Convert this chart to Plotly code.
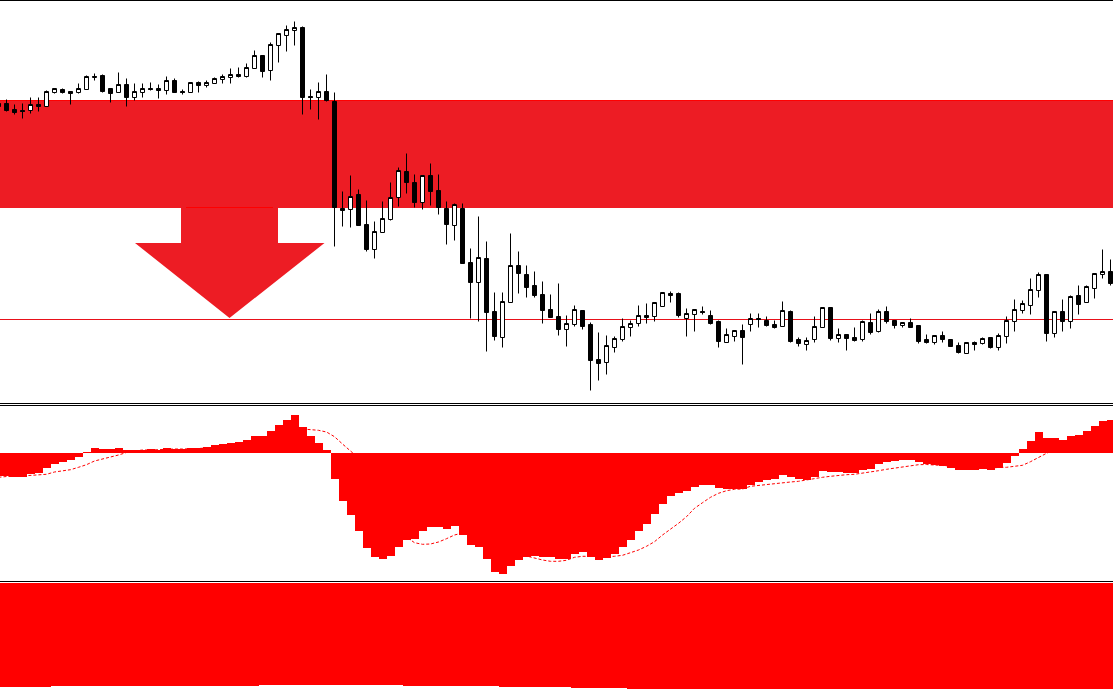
import plotly.graph_objects as go

W, H = 1113, 689

bar_index = list(range(-1, 139))

opens = [297,297,291,290,290,296,294,308,311,309,308,311,323,325,312,308,316,303,308,312,312,310,320,309,308,318,315,317,321,323,326,324,332,345,330,355,365,370,373,304,303,309,299,192,191,206,176,151,168,181,203,229,218,198,225,210,192,175,192,138,118,142,89,63,98,135,126,115,106,91,84,71,76,90,76,41,38,53,61,73,77,85,84,94,107,107,82,86,89,85,79,58,64,70,76,82,80,76,74,89,61,56,61,73,93,62,66,63,61,78,69,89,80,75,78,75,61,58,65,61,55,47,58,57,63,53,64,79,90,95,110,126,67,89,79,105,98,112,126,129]
highs = [300,301,296,297,303,303,310,312,312,309,317,325,327,326,312,328,322,317,317,318,316,324,322,311,318,319,320,323,326,332,333,337,350,345,358,367,375,379,374,311,318,326,308,209,225,211,200,179,199,218,233,247,226,225,237,226,199,197,197,152,184,159,108,108,167,149,135,129,119,106,117,85,95,90,78,68,65,64,82,80,95,97,98,108,109,108,92,91,94,90,80,72,70,76,87,87,84,80,99,90,63,63,84,93,93,72,66,73,80,87,91,94,80,78,82,75,66,65,69,61,58,58,59,63,63,67,84,101,100,122,128,126,89,101,105,115,115,127,151,141]
lows = [292,289,286,282,287,289,294,307,307,296,307,311,320,308,298,308,294,300,303,310,302,306,308,306,308,308,313,317,317,317,323,323,332,323,320,338,349,355,286,291,281,299,154,174,173,175,149,142,168,180,194,207,193,191,195,186,156,160,137,82,79,49,60,53,98,107,103,103,77,83,65,54,74,71,10,20,26,48,59,64,74,77,79,94,98,83,64,69,86,76,53,58,59,36,69,73,74,72,74,58,54,50,58,73,60,58,50,59,59,66,68,77,72,73,73,57,57,56,58,54,47,47,50,56,52,50,57,69,87,86,103,59,63,69,72,86,98,102,122,115]
closes = [294,290,288,289,296,294,309,312,308,307,312,324,324,309,307,316,303,309,312,311,310,320,308,308,318,315,318,322,324,326,324,333,345,329,356,367,371,373,303,303,309,300,193,190,204,175,151,169,182,203,230,218,198,225,209,193,176,196,137,118,143,88,64,99,135,127,113,105,90,83,71,77,91,74,40,37,55,62,74,77,85,83,98,108,105,85,87,91,88,77,59,66,70,63,82,81,75,73,90,59,57,60,74,93,62,66,62,60,79,68,89,79,75,78,73,59,58,65,61,54,48,58,56,62,53,65,80,91,97,111,126,67,89,79,104,96,114,127,129,117]

hist_values = [-23,-23,-23.5,-23.5,-21,-20,-15,-11,-9,-7,-4,1,5,4,4,5,3,3,3,4,3.5,5,4,4,5,5,6,8,9,10,11,13,17,17,22,28,33,38,26,17,10,3,-26,-48,-62,-78,-95,-104,-106,-103,-94,-87,-86,-78,-74,-74,-76,-73,-82,-92,-94,-106,-119,-121,-113,-107,-104,-103,-104,-104,-106,-106,-101,-99,-104,-107,-105,-101,-94,-87,-78,-71,-61,-51,-43,-40,-38,-34,-32,-32,-35,-36,-36,-36,-32,-29,-27,-26,-22,-24,-26,-27,-24,-18,-19,-19,-20,-20,-17,-16,-11,-9,-8,-7,-7,-9,-11,-12,-13,-15,-17,-17,-17,-16,-17,-15,-10,-3,4,12,21,15,15,13,17,18,22,27,32,33]
signal_values = [-24.3,-23.5,-23.5,-23,-22.3,-22.3,-21.3,-19,-18,-16.7,-14.3,-11.7,-8,-5.7,-4,-2,0.5,2,3,3,3.5,4,4,4,4,4.5,5,5.5,6,7,8,9,11,13,15.5,18,21,23.5,24,23.7,22.7,21,16.3,9,2.3,-5,-17,-32,-47,-62,-75,-84,-89.7,-91.3,-91,-89,-85.7,-82,-80,-80,-81,-84,-89,-94,-98,-102,-103,-105.3,-107,-108.3,-108.3,-107.3,-104.3,-103.3,-103.5,-103.5,-103.5,-103.3,-102.3,-99.7,-97,-93.3,-88.7,-82,-76.3,-70.3,-63.7,-55.3,-49.7,-44.3,-40.3,-37.7,-36.3,-36,-33.3,-32.3,-32,-31,-29.7,-29,-28.3,-27,-25,-24.3,-23.3,-22.3,-21.7,-21.3,-20.3,-19,-17.7,-16.3,-15.3,-14,-12.7,-11.7,-11.5,-12,-12.5,-13,-14,-14.5,-15,-15.3,-15.5,-14.3,-14.3,-13.3,-12.3,-8.7,-4.3,-0.3,3,6,9,12,15,18,22,25]
lower_values = [-104,-104,-104,-104,-104,-104,-104,-103,-103,-103,-103,-103,-103,-103,-103,-103,-103,-103,-103,-103,-103,-103,-103,-103,-103,-103,-103,-103,-103,-103,-103,-103,-103,-102,-102,-102,-102,-102,-102,-102,-102,-102,-102,-102,-102,-102,-102,-102,-102,-102,-102,-103,-103,-103,-103,-103,-103,-103,-103,-103,-103,-103,-103,-104,-104,-104,-104,-104,-104,-104,-104,-104,-105,-105,-105,-105,-105,-105,-105,-106,-106,-106,-106,-106,-106,-106,-106,-106,-106,-106,-106,-106,-106,-106,-106,-106,-106,-106,-106,-106,-106,-106,-106,-106,-106,-106,-106,-106,-106,-106,-106,-106,-106,-106,-106,-106,-106,-106,-106,-106,-106,-106,-106,-106,-106,-106,-106,-106,-106,-106,-106,-106,-106,-106,-106,-106,-106,-106,-106,-106]

zone_top, zone_bottom = 300.5, 192.5
level = 81

ZONE = "#ED1C24"
RED = "#FF0000"


def fx(px):
    return px / W


def fy(py):
    return 1 - py / H


x_range = [(0 - 6.5) / 8, (W - 6.5) / 8]

fig = go.Figure()
fig.add_trace(go.Candlestick(
    x=bar_index, open=opens, high=highs, low=lows, close=closes,
    xaxis="x", yaxis="y",
    increasing=dict(line=dict(color="#000000", width=1), fillcolor="#FFFFFF"),
    decreasing=dict(line=dict(color="#000000", width=1), fillcolor="#000000"),
    whiskerwidth=0, showlegend=False, hoverinfo="skip",
))
fig.add_trace(go.Scatter(
    x=bar_index, y=signal_values, mode="lines", xaxis="x2", yaxis="y2",
    line=dict(color=RED, width=1, dash="3px,2px"), showlegend=False, hoverinfo="skip",
))
fig.add_trace(go.Bar(
    x=bar_index, y=hist_values, width=1, xaxis="x2", yaxis="y2",
    marker=dict(color=RED, line=dict(width=0)), showlegend=False, hoverinfo="skip",
))
fig.add_trace(go.Bar(
    x=bar_index, y=lower_values, width=1, xaxis="x3", yaxis="y3",
    marker=dict(color=RED, line=dict(width=0)), showlegend=False, hoverinfo="skip",
))

arrow_path = "M {} {} L {} {} L {} {} L {} {} L {} {} L {} {} L {} {} Z".format(
    fx(181), fy(207), fx(278), fy(207), fx(278), fy(243), fx(324.5), fy(243),
    fx(229.5), fy(318), fx(135), fy(243), fx(181), fy(243))

shapes = [
    dict(type="rect", xref="paper", yref="y", x0=0, x1=1, y0=zone_bottom, y1=zone_top,
         fillcolor=ZONE, line=dict(width=0), layer="below"),
    dict(type="line", xref="paper", yref="y", x0=0, x1=1, y0=zone_top - 0.5, y1=zone_top - 0.5,
         line=dict(color=RED, width=1), layer="below"),
    dict(type="line", xref="paper", yref="y", x0=0, x1=1, y0=level, y1=level,
         line=dict(color="#E8111A", width=1), layer="below"),
    dict(type="path", xref="paper", yref="paper", path=arrow_path,
         fillcolor=ZONE, line=dict(width=0), layer="below"),
    dict(type="line", xref="paper", yref="paper", x0=fx(186), x1=fx(273), y0=fy(207.5), y1=fy(207.5),
         line=dict(color=RED, width=1), layer="below"),
]
for py in (0.5, 403.5, 405.5, 581.5):
    shapes.append(dict(type="line", xref="paper", yref="paper", x0=0, x1=1, y0=fy(py), y1=fy(py),
                       line=dict(color="#000000", width=1), layer="above"))

hidden = dict(visible=False, fixedrange=True, showgrid=False, zeroline=False)

fig.update_layout(
    width=W, height=H,
    margin=dict(l=0, r=0, t=0, b=0, pad=0),
    paper_bgcolor="#FFFFFF", plot_bgcolor="#FFFFFF",
    showlegend=False, boxgap=0.5, boxgroupgap=0, bargap=0,
    dragmode=False,
    shapes=shapes,
    xaxis=dict(domain=[0, 1], range=x_range, anchor="y", rangeslider=dict(visible=False), **hidden),
    yaxis=dict(domain=[fy(403), 1], range=[-2.5, 400.5], anchor="x", **hidden),
    xaxis2=dict(domain=[0, 1], range=x_range, anchor="y2", **hidden),
    yaxis2=dict(domain=[fy(581), fy(406)], range=[-128, 47], anchor="x2", **hidden),
    xaxis3=dict(domain=[0, 1], range=x_range, anchor="y3", **hidden),
    yaxis3=dict(domain=[0, fy(583)], range=[-106, 0], anchor="x3", **hidden),
)

fig.write_html("out.html", config={"displayModeBar": False},
               post_script="document.body.style.margin='0';document.documentElement.style.overflow='hidden';")
